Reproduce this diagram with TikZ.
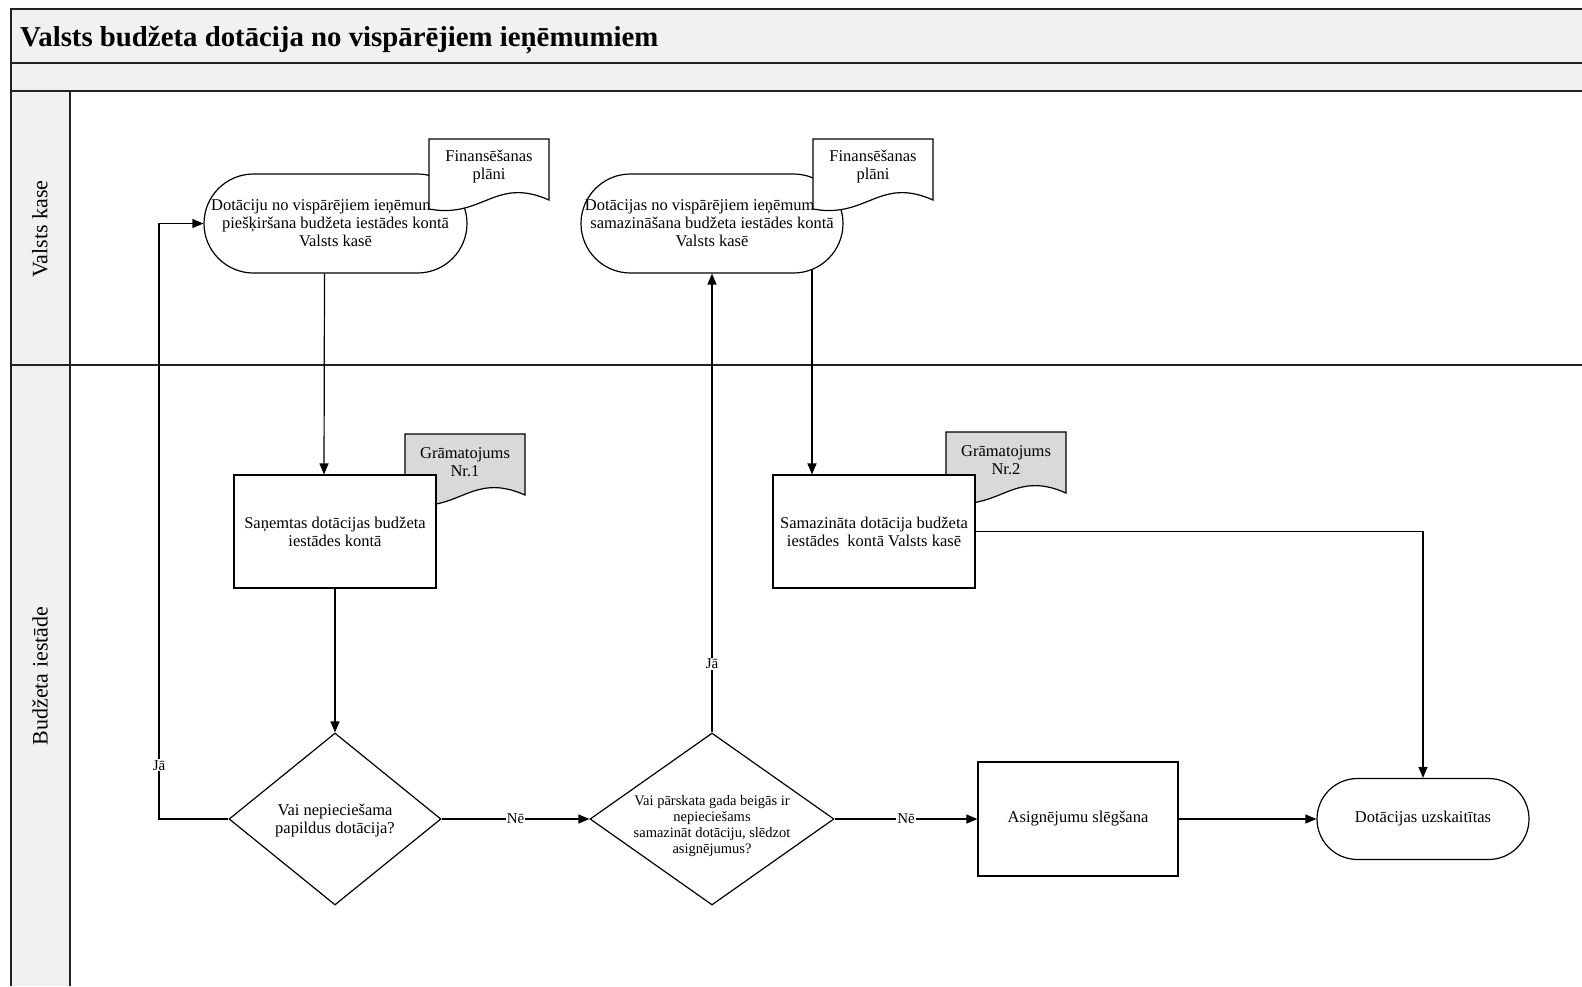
\documentclass[tikz,border=0pt]{standalone}
\usepackage{fontspec}
\setmainfont{Liberation Serif}
\usetikzlibrary{arrows.meta,shapes.geometric,calc}
\definecolor{lanegray}{RGB}{241,241,241}
\definecolor{docgray}{RGB}{217,217,217}
\definecolor{framecol}{RGB}{35,35,35}
\newcommand\fsnode{\fontsize{16.5}{18}\selectfont}
\newcommand\fsdia{\fontsize{14.5}{16.2}\selectfont}
\newcommand\fstitle{\fontsize{28.8}{32}\selectfont\bfseries}
\newcommand\fslane{\fontsize{22}{24}\selectfont}
\newcommand\fslab{\fontsize{15}{17}\selectfont}
\tikzset{
  frameline/.style={draw=framecol, line width=1.9pt},
  shapeline/.style={draw=black, line width=1.2pt},
  term/.style 2 args={shapeline, fill=white, rectangle, rounded corners=#2/2,
    minimum width=#1, minimum height=#2, inner sep=0pt, align=center, font=\fsnode},
  proc/.style 2 args={shapeline, fill=white, rectangle,
    minimum width=#1, minimum height=#2, inner sep=0pt, align=center, font=\fsnode},
  dia/.style 2 args={shapeline, fill=white, diamond, aspect=1, inner sep=0pt,
    minimum width=#1, minimum height=#2},
  conn/.style={draw=black, line width=1.2pt, -{Triangle[length=11pt,width=9pt]}},
  lbl/.style={fill=white, inner sep=1pt, font=\fslab},
  doctext/.style={align=center, font=\fsnode, inner sep=0pt},
}
% #1 name, #2 left, #3 top, #4 fill colour, #5 text
\newcommand\docshape[5]{%
  \coordinate (#1-tl) at (#2,#3);
  \draw[shapeline, fill=#4] (#1-tl) -- ++(120,0) -- ++(0,61)
    .. controls ($(#1-tl)+(66,37)$) and ($(#1-tl)+(54,80)$) .. ($(#1-tl)+(0,70)$) -- cycle;
  \node[doctext] (#1) at ($(#1-tl)+(60,28)$) {#5};
}
\begin{document}
\begin{tikzpicture}[x=1pt,y=-1pt]
\useasboundingbox (0,0) rectangle (1582,986);
% pool and lanes
\fill[lanegray] (11,9) rectangle (1582,91);
\fill[lanegray] (11,91) rectangle (70,986);
\draw[frameline] (1582,9) -- (11,9) -- (11,986);
\draw[frameline] (11,63) -- (1582,63);
\draw[frameline] (11,91) -- (1582,91);
\draw[frameline] (70,91) -- (70,986);
\draw[frameline] (11,365) -- (1582,365);
\node[anchor=base west, font=\fstitle, inner sep=0pt] (title) at (20,46) {Valsts budžeta dotācija no vispārējiem ieņēmumiem};
\node[rotate=90, font=\fslane] (lane1) at (40,229) {Valsts kase};
\node[rotate=90, font=\fslane] (lane2) at (40,676) {Budžeta iestāde};

% documents behind the process boxes
\docshape{doc3}{405}{434}{docgray}{Grāmatojums\\Nr.1}
\docshape{doc4}{946}{432}{docgray}{Grāmatojums\\Nr.2}

% process boxes
\node[proc={202}{113}] (r1) at (335,531.5) {Saņemtas dotācijas budžeta\\iestādes kontā};
\node[proc={202}{113}] (r2) at (874,531.5) {Samazināta dotācija budžeta\\iestādes~ kontā Valsts kasē};
\node[proc={200}{114}] (r3) at (1078,819) {Asignējumu slēgšana};

% terminals
\node[term={263}{99}] (t1) at (335.5,223.5) {Dotāciju no vispārējiem ieņēmumiem\\piešķiršana budžeta iestādes kontā\\Valsts kasē};
\node[term={262}{99}] (t2) at (712,223.5) {Dotācijas no vispārējiem ieņēmumiem\\samazināšana budžeta iestādes kontā\\Valsts kasē};
\node[term={212}{81}] (t3) at (1423,819) {Dotācijas uzskaitītas};

% documents in front of the terminals
\docshape{doc1}{429}{139}{white}{Finansēšanas\\plāni}
\docshape{doc2}{813}{139}{white}{Finansēšanas\\plāni}

% decisions
\node[dia={212}{172}] (d1) at (335,819) {};
\node[align=center, font=\fsnode, inner sep=0pt] (d1t) at ($(d1)+(0,2)$) {Vai nepieciešama\\papildus dotācija?};
\node[dia={244}{172}] (d2) at (712,819) {};
\node[align=center, font=\fsdia, inner sep=0pt] (d2t) at ($(d2)+(0,7)$) {Vai pārskata gada beigās ir\\nepieciešams\\samazināt dotāciju, slēdzot\\asignējumus?};

% connectors
\draw[conn] ($(t1.south)+(-11,0)$) -- ($(r1.north)+(-11,0)$);
\draw[conn] (r1.south) -- (d1.north);
\coordinate (jaturn) at (159,819);
\draw[conn] (d1.west) -- (jaturn) -- node[lbl, pos=0.09] (lja1) {Jā} (jaturn |- t1.west) -- (t1.west);
\draw[conn] (d1.east) -- node[lbl] (lne1) {Nē} (d2.west);
\draw[conn] (d2.north) -- node[lbl, pos=0.15] (lja2) {Jā} (t2.south);
\coordinate (t2out) at ($(t2.center)+(100,46)$);
\draw[conn] (t2out) -- (t2out |- r2.north);
\draw[conn] (r2.east) -| (t3.north);
\draw[conn] (d2.east) -- node[lbl] (lne2) {Nē} (r3.west);
\draw[conn] (r3.east) -- (t3.west);
\end{tikzpicture}
\end{document}
